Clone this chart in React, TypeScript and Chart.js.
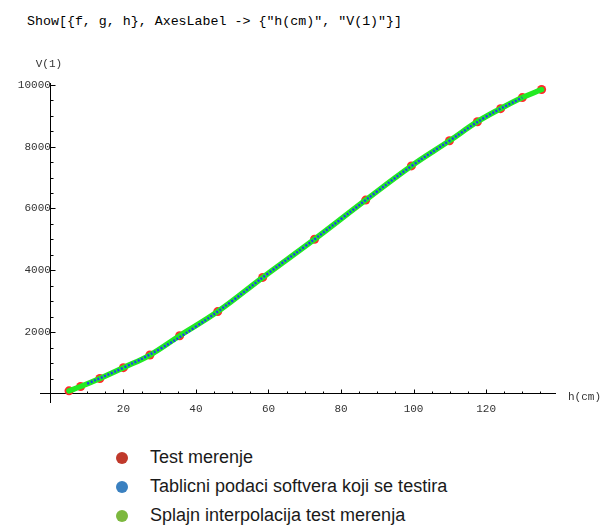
import React, { useEffect, useRef } from "react";
import { Chart, registerables } from "chart.js";

Chart.register(...registerables);

// Test merenje (measured points)
const measuredH = [5, 8.2, 13.5, 20, 27.3, 35.5, 46, 58.4, 72.7, 86.8, 99.4, 109.9, 117.6, 124, 130, 135.3];
const measuredV = [100, 240, 500, 850, 1260, 1885, 2665, 3770, 5005, 6273, 7378, 8190, 8808, 9230, 9588, 9848];

// Tablicni podaci softvera koji se testira
const tableH = [10, 20, 30, 40, 50, 60, 70, 80, 90, 100, 110, 120, 130];
const tableV = [330, 850, 1450, 2180, 3010, 3910, 4770, 5660, 6555, 7420, 8200, 8970, 9590];

// Splajn interpolacija test merenja
const splineH = [5, 8.2, 13.5, 20, 27.3, 35.5, 46, 58.4, 72.7, 86.8, 99.4, 109.9, 117.6, 124, 130, 135.3];
const splineV = [100, 240, 500, 850, 1260, 1885, 2665, 3770, 5005, 6273, 7378, 8190, 8808, 9230, 9588, 9848];

const xTickLabels = [20, 40, 60, 80, 100, 120];
const yTickLabels = [2000, 4000, 6000, 8000, 10000];

const legendLabels = [
  "Test merenje",
  "Tablicni podaci softvera koji se testira",
  "Splajn interpolacija test merenja",
];
const legendColors = ["#c0392b", "#3a80c0", "#7cb83e"];

const titleText = 'Show[{f, g, h}, AxesLabel -> {"h(cm)", "V(1)"}]';
const xAxisLabel = "h(cm)";
const yAxisLabel = "V(1)";

const toPts = (xs: number[], ys: number[]) => xs.map((x, i) => ({ x, y: ys[i] }));

const axesPlugin = {
  id: "mmaAxes",
  beforeDatasetsDraw(chart: any) {
    const { ctx } = chart;
    const xs = chart.scales.x;
    const ys = chart.scales.y;
    const x0 = xs.getPixelForValue(0);
    const y0 = ys.getPixelForValue(0);
    ctx.save();
    ctx.strokeStyle = "#000";
    ctx.lineWidth = 1;
    for (let v = 5; v <= 135; v += 5) {
      const px = Math.round(xs.getPixelForValue(v)) + 0.5;
      const len = v % 20 === 0 ? 4.5 : 2.5;
      ctx.beginPath();
      ctx.moveTo(px, Math.round(y0));
      ctx.lineTo(px, Math.round(y0) - len);
      ctx.stroke();
    }
    for (let v = 500; v <= 10000; v += 500) {
      const py = Math.round(ys.getPixelForValue(v)) + 0.5;
      const len = v % 2000 === 0 ? 4.5 : 2.5;
      ctx.beginPath();
      ctx.moveTo(Math.round(x0), py);
      ctx.lineTo(Math.round(x0) + len, py);
      ctx.stroke();
    }
    ctx.fillStyle = "#333";
    ctx.font = "11px 'Liberation Mono', 'DejaVu Sans Mono', monospace";
    ctx.textBaseline = "middle";
    ctx.textAlign = "center";
    ctx.fillText(yAxisLabel, x0 - 2, ys.top - 19);
    ctx.textAlign = "left";
    ctx.fillText(xAxisLabel, xs.right + 13, y0 + 3);
    ctx.restore();
  },
};

export default function App() {
  const canvasRef = useRef<HTMLCanvasElement | null>(null);

  useEffect(() => {
    if (!canvasRef.current) return;
    const tickFont = { family: "'Liberation Mono', 'DejaVu Sans Mono', monospace", size: 11 };
    const chart = new Chart(canvasRef.current, {
      type: "scatter",
      data: {
        datasets: [
          {
            label: legendLabels[0],
            data: toPts(measuredH, measuredV),
            backgroundColor: "#ff2a2a",
            borderColor: "#ff2a2a",
            pointRadius: 4.5,
            pointBorderWidth: 0,
            showLine: false,
            order: 3,
          },
          {
            label: legendLabels[1],
            data: toPts(tableH, tableV),
            borderColor: "#1f3cf0",
            borderWidth: 2.5,
            borderDash: [2, 1.7],
            pointRadius: 0,
            showLine: true,
            tension: 0.4,
            order: 1,
          },
          {
            label: legendLabels[2],
            data: toPts(splineH, splineV),
            borderColor: "#22ea22",
            borderWidth: 5.5,
            borderCapStyle: "round",
            pointRadius: 0,
            showLine: true,
            tension: 0.4,
            order: 2,
          },
        ] as any,
      },
      options: {
        animation: false,
        responsive: false,
        maintainAspectRatio: false,
        layout: { padding: { left: 40, right: 48, top: 83, bottom: 18 } },
        plugins: { legend: { display: false }, tooltip: { enabled: false }, title: { display: false } },
        scales: {
          x: {
            type: "linear",
            min: -3,
            max: 139,
            position: { y: 0 } as any,
            afterBuildTicks: (scale: any) => {
              scale.ticks = xTickLabels.map((v) => ({ value: v }));
            },
            grid: { display: true, drawOnChartArea: false, drawTicks: false, color: "rgba(0,0,0,0)" },
            border: { display: true, color: "#000", width: 1 },
            ticks: { font: tickFont, color: "#333", padding: 9, maxRotation: 0, autoSkip: false, callback: (v: any) => String(v) },
          },
          y: {
            type: "linear",
            min: -260,
            max: 10060,
            position: { x: 0 } as any,
            afterBuildTicks: (scale: any) => {
              scale.ticks = yTickLabels.map((v) => ({ value: v }));
            },
            grid: { display: true, drawOnChartArea: false, drawTicks: false, color: "rgba(0,0,0,0)" },
            border: { display: true, color: "#000", width: 1 },
            ticks: { font: tickFont, color: "#333", padding: 7, autoSkip: false, callback: (v: any) => String(v) },
          },
        } as any,
      },
      plugins: [axesPlugin],
    });
    return () => chart.destroy();
  }, []);

  return (
    <div style={{ position: "relative", width: 603, height: 525, background: "#fff", overflow: "hidden" }}>
      <style>{`body{margin:0;background:#fff}`}</style>
      <div
        style={{
          position: "absolute",
          left: 27,
          top: 14,
          fontFamily: "'Liberation Mono', 'DejaVu Sans Mono', monospace",
          fontSize: 13.3,
          lineHeight: "16px",
          color: "#000",
          whiteSpace: "pre",
        }}
      >
        {titleText}
      </div>
      <canvas ref={canvasRef} width={603} height={420} style={{ position: "absolute", left: 0, top: 0, display: "block" }} />
      {legendLabels.map((lab, i) => (
        <div
          key={lab}
          style={{
            position: "absolute",
            left: 116,
            top: 443 + i * 29,
            height: 29,
            display: "flex",
            alignItems: "center",
            fontFamily: "'Liberation Sans', Arial, sans-serif",
            fontSize: 18,
            color: "#1a1a1a",
            whiteSpace: "nowrap",
          }}
        >
          <span
            style={{
              display: "inline-block",
              width: 12,
              height: 12,
              borderRadius: "50%",
              background: legendColors[i],
              marginRight: 22,
            }}
          />
          {lab}
        </div>
      ))}
    </div>
  );
}
